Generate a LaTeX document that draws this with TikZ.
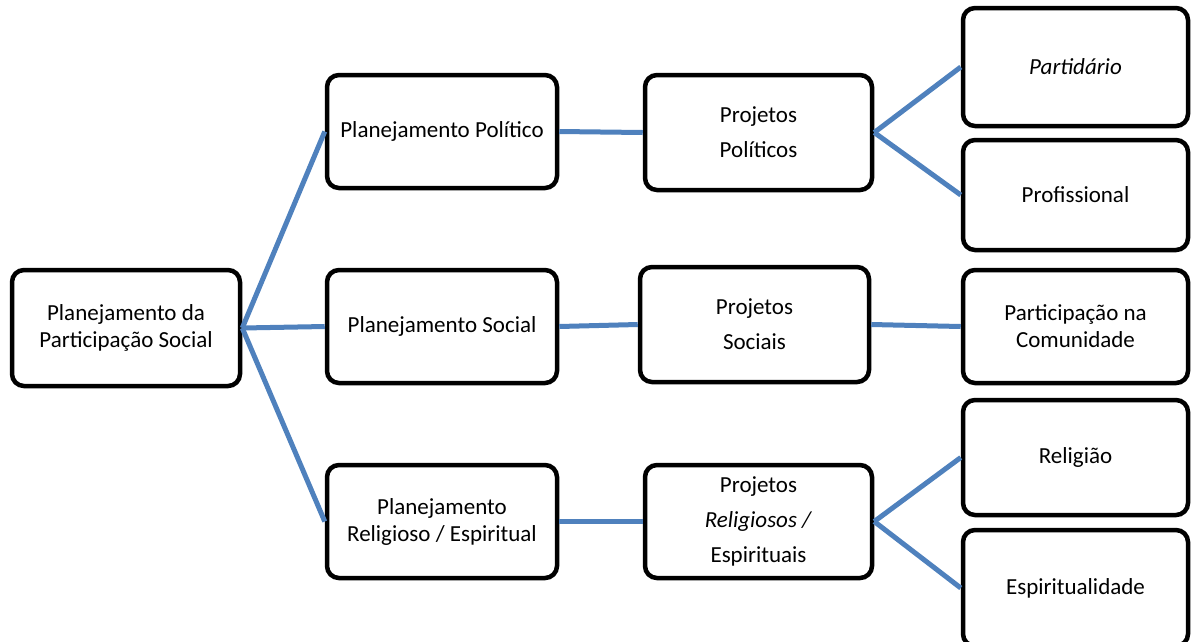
\documentclass[tikz,border=0pt]{standalone}
\usepackage{fontspec}
\setmainfont{Carlito}
\definecolor{linkblue}{RGB}{79,129,189}
\begin{document}
\begin{tikzpicture}[x=1pt,y=-1pt,
  box/.style={draw=black, line width=4.5pt, rounded corners=12pt, fill=white,
    align=center, inner sep=2pt, font=\fontsize{23}{27}\selectfont},
  wide/.style={font=\fontsize{23}{35}\selectfont},
  link/.style={draw=linkblue, line width=5pt}]
\useasboundingbox (0,0) rectangle (1191,641);

% root
\node[box, minimum width=228, minimum height=116] (root) at (126,328)
  {Planejamento da\\Participação Social};

% planning level
\node[box, minimum width=230, minimum height=113] (pp) at (442,131.5) {Planejamento Político};
\node[box, minimum width=230, minimum height=113] (ps) at (442,326.5) {Planejamento Social};
\node[box, minimum width=230, minimum height=113] (pr) at (442,521.5)
  {Planejamento\\Religioso / Espiritual};

% project level
\node[box, wide, minimum width=227, minimum height=115] (jp) at (758.5,132.5) {Projetos\\Políticos};
\node[box, wide, minimum width=229, minimum height=115] (js) at (754.5,324.5) {Projetos\\Sociais};
\node[box, wide, minimum width=227, minimum height=113] (jr) at (758.5,521.5)
  {Projetos\\\textit{Religiosos /}\\Espirituais};

% outcomes
\node[box, minimum width=225, minimum height=118] (d1) at (1075.5,67) {\textit{Partidário}};
\node[box, minimum width=225, minimum height=110] (d2) at (1075.5,195) {Profissional};
\node[box, minimum width=225, minimum height=113] (d3) at (1075.5,326.5) {Participação na\\Comunidade};
\node[box, minimum width=225, minimum height=115] (d4) at (1075.5,457.5) {Religião};
\node[box, minimum width=225, minimum height=116] (d5) at (1075.5,588) {Espiritualidade};

% connectors
\draw[link] (root.east) -- (pp.west);
\draw[link] (root.east) -- (ps.west);
\draw[link] (root.east) -- (pr.west);
\draw[link] (pp.east) -- (jp.west);
\draw[link] (ps.east) -- (js.west);
\draw[link] (pr.east) -- (jr.west);
\draw[link] (jp.east) -- (d1.west);
\draw[link] (jp.east) -- (d2.west);
\draw[link] (js.east) -- (d3.west);
\draw[link] (jr.east) -- (d4.west);
\draw[link] (jr.east) -- (d5.west);
\end{tikzpicture}
\end{document}
